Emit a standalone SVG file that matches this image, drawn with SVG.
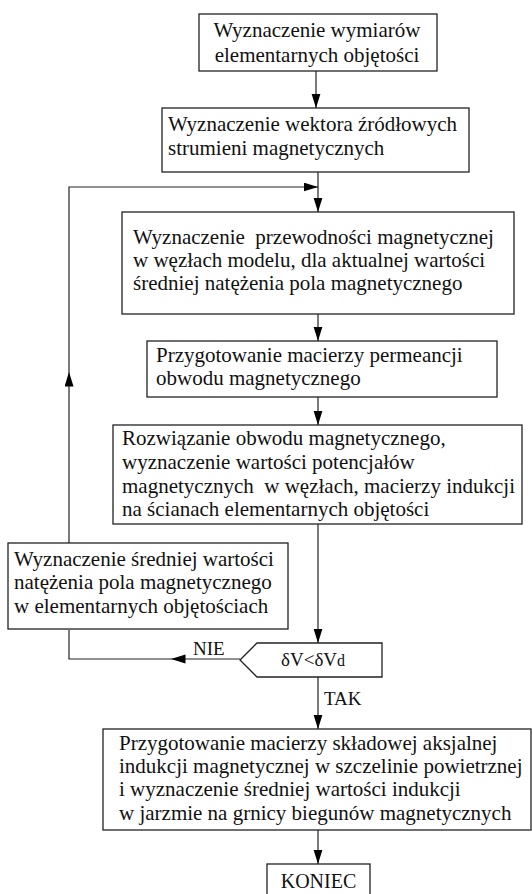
<svg xmlns="http://www.w3.org/2000/svg" width="532" height="894" viewBox="0 0 532 894" font-family="Liberation Serif, Times New Roman, serif" font-size="21">
<style>
.box{fill:#fff;stroke:#222;stroke-width:1.3}
.ln{fill:none;stroke:#222;stroke-width:1.2}
text{fill:#111;white-space:pre}
.c{text-anchor:middle}
</style>
<defs>
<marker id="ah" markerUnits="userSpaceOnUse" markerWidth="16" markerHeight="10" refX="14.5" refY="4.5" orient="auto">
<path d="M0,0 L14.5,4.5 L0,9 z" fill="#000"/>
</marker>
</defs>
<rect width="532" height="894" fill="#fff"/>
<g id="connectors">
<path class="ln" d="M316,71 V108" marker-end="url(#ah)"/>
<path class="ln" d="M318,172 V212" marker-end="url(#ah)"/>
<path class="ln" d="M318,314 V341" marker-end="url(#ah)"/>
<path class="ln" d="M318,397 V425" marker-end="url(#ah)"/>
<path class="ln" d="M318,524 V643" marker-end="url(#ah)"/>
<path class="ln" d="M318,677 V729" marker-end="url(#ah)"/>
<path class="ln" d="M318,830 V864" marker-end="url(#ah)"/>
<path class="ln" d="M240,659 H171" marker-end="url(#ah)"/>
<path class="ln" d="M171,659 H69 V630"/>
<path class="ln" d="M69,543 V372" marker-end="url(#ah)"/>
<path class="ln" d="M69,372 V187 H318" marker-end="url(#ah)"/>
<text font-size="19" x="193" y="655">NIE</text>
<text font-size="19" x="324" y="705">TAK</text>
</g>
<g id="n1">
<rect class="box" x="199" y="14" width="238" height="57"/>
<text class="c" x="317" y="37">Wyznaczenie wymiarów</text>
<text class="c" x="317" y="62">elementarnych objętości</text>
</g>
<g id="n2">
<rect class="box" x="162" y="108" width="307" height="64"/>
<text x="168" y="131">Wyznaczenie wektora źródłowych</text>
<text x="168" y="155">strumieni magnetycznych</text>
</g>
<g id="n3">
<rect class="box" x="122" y="212" width="392" height="102"/>
<text x="133" y="244">Wyznaczenie  przewodności magnetycznej</text>
<text x="133" y="267">w węzłach modelu, dla aktualnej wartości</text>
<text x="133" y="290">średniej natężenia pola magnetycznego</text>
</g>
<g id="n4">
<rect class="box" x="147" y="341" width="350" height="56"/>
<text x="156" y="362">Przygotowanie macierzy permeancji</text>
<text x="156" y="385">obwodu magnetycznego</text>
</g>
<g id="n5">
<rect class="box" x="113" y="425" width="409" height="99"/>
<text x="122" y="445">Rozwiązanie obwodu magnetycznego,</text>
<text x="122" y="469">wyznaczenie wartości potencjałów</text>
<text x="122" y="493">magnetycznych  w węzłach, macierzy indukcji</text>
<text x="122" y="516">na ścianach elementarnych objętości</text>
</g>
<g id="n6">
<rect class="box" x="8" y="543" width="280" height="86"/>
<text x="14" y="566">Wyznaczenie średniej wartości</text>
<text x="14" y="589">natężenia pola magnetycznego</text>
<text x="14" y="613">w elementarnych objętościach</text>
</g>
<g id="n7">
<path class="box" d="M240,660 L257,643 H382 V677 H257 Z"/>
<text font-size="19" x="281" y="666">δV&lt;δV<tspan font-size="16">d</tspan></text>
</g>
<g id="n8">
<rect class="box" x="103" y="729" width="428" height="101"/>
<text x="119" y="750">Przygotowanie macierzy składowej aksjalnej</text>
<text x="119" y="773">indukcji magnetycznej w szczelinie powietrznej</text>
<text x="119" y="796">i wyznaczenie średniej wartości indukcji</text>
<text x="119" y="820">w jarzmie na grnicy biegunów magnetycznych</text>
</g>
<g id="n9">
<rect class="box" x="267" y="864" width="103" height="40"/>
<text class="c" x="318.5" y="888" font-size="20">KONIEC</text>
</g>
</svg>
